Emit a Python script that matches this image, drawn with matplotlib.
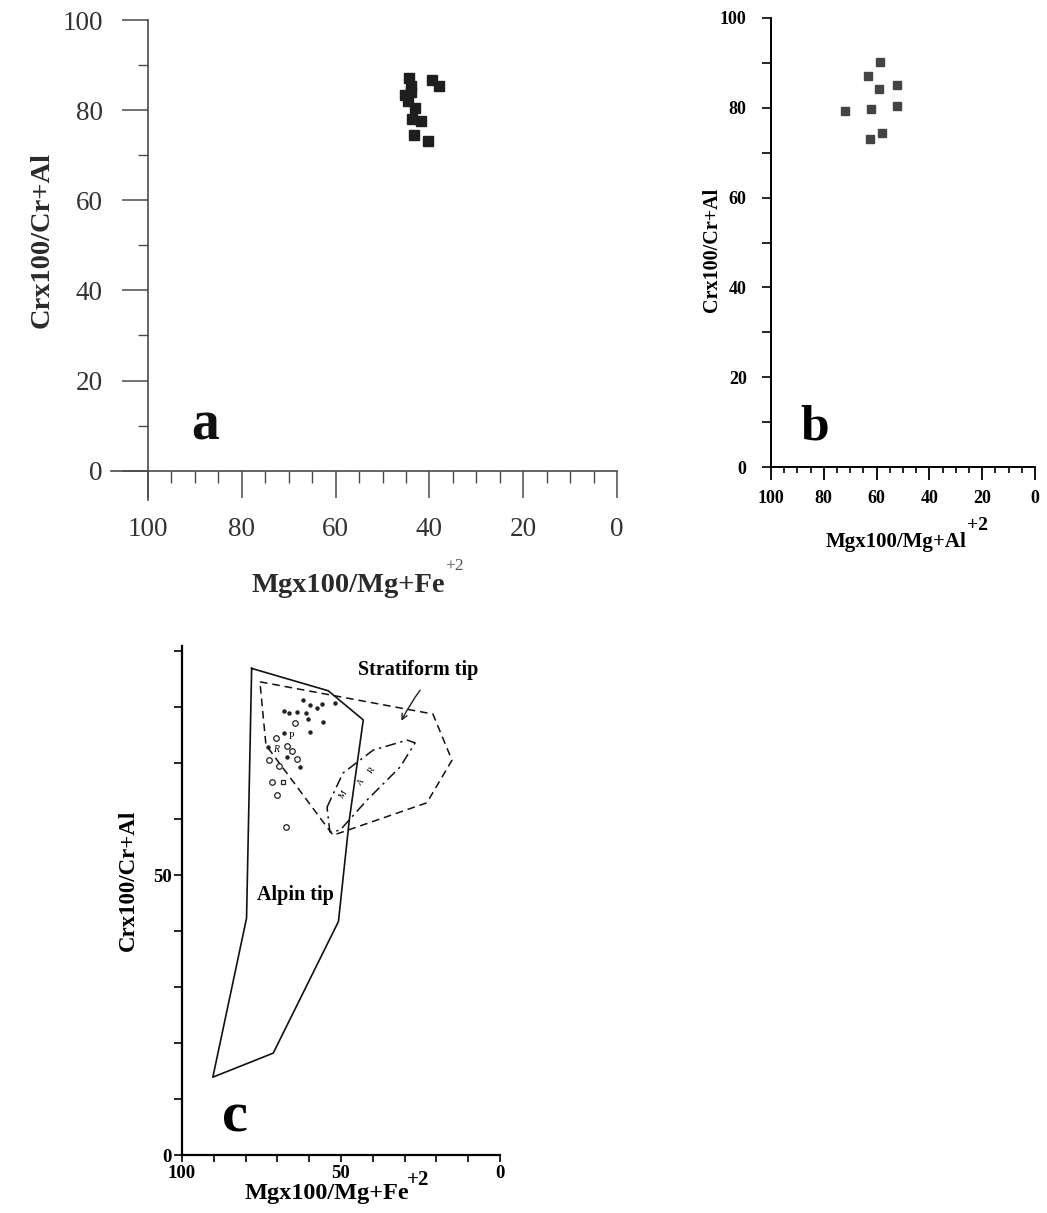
import matplotlib
matplotlib.use('Agg')
import matplotlib.pyplot as plt
from matplotlib.ticker import FixedLocator

plt.rcParams['font.family'] = ['Liberation Serif', 'DejaVu Serif']
plt.rcParams['mathtext.fontset'] = 'stix'

# ---------------- data ----------------
# panel a : Mg# (x) vs Cr# (y)
a_mg = [44.4, 43.9, 45.2, 44.6, 43.1, 43.7, 41.7, 43.3, 40.2, 39.4, 38.0, 44.0]
a_cr = [87.1, 85.3, 83.4, 82.1, 80.5, 78.0, 77.7, 74.4, 73.1, 86.6, 85.3, 84.0]

# panel b
b_mg = [58.7, 63.3, 59.1, 52.3, 72.0, 62.1, 52.3, 58.0, 62.5]
b_cr = [90.2, 87.1, 84.2, 85.1, 79.3, 79.7, 80.4, 74.4, 73.1]

# panel c : field outlines
alpin_x = [78.1, 54.0, 43.0, 47.4, 50.8, 71.3, 90.3, 79.7, 78.1]
alpin_y = [86.9, 82.9, 77.7, 59.8, 41.7, 18.2, 13.9, 42.3, 86.9]
strat_x = [75.5, 21.1, 15.1, 23.0, 52.5, 73.6, 75.5]
strat_y = [84.5, 78.75, 70.5, 62.9, 57.1, 73.2, 84.5]
mar_x = [54.4, 49.4, 39.9, 29.2, 26.7, 31.4, 41.8, 50.3, 53.5, 54.4]
mar_y = [62.1, 68.2, 72.3, 74.1, 73.6, 69.3, 63.4, 58.0, 57.7, 62.1]
# panel c : samples
c_circ_x = [64.5, 70.4, 65.4, 63.8, 72.6, 69.5, 71.7, 70.1, 67.3, 67.0]
c_circ_y = [77.1, 74.5, 72.1, 70.7, 70.5, 69.5, 66.6, 64.3, 58.6, 73.0]
c_sq_x = [68.2]
c_sq_y = [66.6]
c_dot_x = [62.0, 59.7, 57.5, 56.0, 51.9, 67.9, 66.4, 63.8, 61.0, 60.4, 55.7, 59.7, 67.9, 73.0, 67.0, 62.9]
c_dot_y = [81.25, 80.4, 79.8, 80.5, 80.7, 79.3, 78.9, 79.1, 78.9, 77.9, 77.3, 75.5, 75.4, 72.9, 71.1, 69.3]

xticks_ab = [100, 80, 60, 40, 20, 0]
yticks_ab = [0, 20, 40, 60, 80, 100]

# ---------------- figure ----------------
W, H = 1047, 1213
fig = plt.figure(figsize=(W / 100, H / 100), dpi=100)


def box(l, t, r, b):
    return [l / W, 1 - b / H, (r - l) / W, (b - t) / H]


def P(x, y):
    return (x / W, 1 - y / H)


# ---------------- panel a ----------------
ga = '#4a4a4a'
axa = fig.add_axes(box(110.5, 20, 617, 500))
axa.set_xlim(108, 0)
axa.set_ylim(-6.5, 100)
for s in ['top', 'right']:
    axa.spines[s].set_visible(False)
axa.spines['left'].set_position(('data', 100))
axa.spines['bottom'].set_position(('data', 0))
for s in ['left', 'bottom']:
    axa.spines[s].set_color(ga)
    axa.spines[s].set_linewidth(1.2)
axa.xaxis.set_major_locator(FixedLocator(xticks_ab))
axa.xaxis.set_minor_locator(FixedLocator([95, 90, 85, 75, 70, 65, 55, 50, 45, 35, 30, 25, 15, 10, 5]))
axa.yaxis.set_major_locator(FixedLocator(yticks_ab))
axa.yaxis.set_minor_locator(FixedLocator([10, 30, 50, 70, 90]))
axa.tick_params(axis='x', which='major', direction='out', length=19.5, width=1.1, color=ga,
                pad=14, labelsize=19.5, labelcolor='#333333')
axa.tick_params(axis='x', which='minor', direction='out', length=8.5, width=1.0, color=ga)
axa.tick_params(axis='y', which='major', direction='out', length=18.5, width=1.1, color=ga,
                pad=14, labelsize=19.5, labelcolor='#333333')
axa.tick_params(axis='y', which='minor', direction='out', length=7.5, width=1.0, color=ga)
axa.plot(a_mg, a_cr, 's', ms=6.8, color='#1e1e1e', mec='#1e1e1e', clip_on=False)
fig.text(*P(42, 240), 'Crx100/Cr+Al', rotation=90, ha='center', va='center',
         fontsize=20.5, fontweight='bold', color='#2a2a2a')
fig.text(*P(348, 585), 'Mgx100/Mg+Fe', ha='center', va='center',
         fontsize=20.5, fontweight='bold', color='#2a2a2a')
fig.text(*P(454, 566), '+2', ha='center', va='center', fontsize=12.5, color='#555555')
fig.text(*P(205, 425), 'a', ha='center', va='center', fontsize=40, fontweight='bold', color='#111111')

# ---------------- panel b ----------------
axb = fig.add_axes(box(771, 18, 1035, 467))
axb.set_xlim(100, 0)
axb.set_ylim(0, 100)
for s in ['top', 'right']:
    axb.spines[s].set_visible(False)
for s in ['left', 'bottom']:
    axb.spines[s].set_linewidth(1.4)
axb.xaxis.set_major_locator(FixedLocator(xticks_ab))
axb.xaxis.set_minor_locator(FixedLocator([95, 90, 85, 75, 70, 65, 55, 50, 45, 35, 30, 25, 15, 10, 5]))
axb.yaxis.set_major_locator(FixedLocator(yticks_ab))
axb.yaxis.set_minor_locator(FixedLocator([10, 30, 50, 70, 90]))
axb.tick_params(axis='x', which='major', direction='out', length=9.5, width=1.3, pad=7,
                labelsize=13)
axb.tick_params(axis='x', which='minor', direction='out', length=4, width=1.2)
axb.tick_params(axis='y', which='both', direction='out', length=6.5, width=1.2, pad=11,
                labelsize=13)
for lab in axb.get_xticklabels() + axb.get_yticklabels():
    lab.set_fontweight('bold')
axb.plot(b_mg, b_cr, 's', ms=5.8, color='#444444', mec='#444444', clip_on=False)
fig.text(*P(712, 250), 'Crx100/Cr+Al', rotation=90, ha='center', va='center',
         fontsize=14.5, fontweight='bold')
fig.text(*P(896, 542), 'Mgx100/Mg+Al', ha='center', va='center',
         fontsize=15, fontweight='bold')
fig.text(*P(977, 525), '+2', ha='center', va='center', fontsize=14, fontweight='bold')
fig.text(*P(815, 427), 'b', ha='center', va='center', fontsize=37, fontweight='bold')

# ---------------- panel c ----------------
axc = fig.add_axes(box(182, 646, 500, 1155))
axc.set_xlim(100, 0)
axc.set_ylim(0, 90.9)
for s in ['top', 'right']:
    axc.spines[s].set_visible(False)
for s in ['left', 'bottom']:
    axc.spines[s].set_linewidth(1.6)
axc.xaxis.set_major_locator(FixedLocator([100, 50, 0]))
axc.xaxis.set_minor_locator(FixedLocator([90, 80, 70, 60, 40, 30, 20, 10]))
axc.yaxis.set_major_locator(FixedLocator([0, 50]))
axc.yaxis.set_minor_locator(FixedLocator([10, 20, 30, 40, 60, 70, 80, 90]))
axc.tick_params(axis='x', which='both', direction='out', length=5, width=1.2, pad=2.5,
                labelsize=13.5)
axc.tick_params(axis='y', which='both', direction='out', length=5.8, width=1.2, pad=1.5,
                labelsize=13.5)
for lab in axc.get_xticklabels() + axc.get_yticklabels():
    lab.set_fontweight('bold')

axc.plot(alpin_x, alpin_y, '-', color='#111111', lw=1.2)
axc.plot(strat_x, strat_y, color='#111111', lw=1.1, dashes=(5, 3.2))
axc.plot(mar_x, mar_y, color='#111111', lw=1.1, dashes=(7, 3, 1.5, 3))
axc.plot(c_circ_x, c_circ_y, 'o', ms=4, mfc='white', mec='#222222', mew=0.9)
axc.plot(c_sq_x, c_sq_y, 's', ms=3.2, mfc='white', mec='#222222', mew=0.9)
axc.plot(c_dot_x, c_dot_y, 'o', ms=2.2, color='#222222')
axc.text(65.5, 74.7, 'P', fontsize=7, ha='center', va='center')
axc.text(70.4, 72.5, 'R', fontsize=7, ha='center', va='center', style='italic')
for t, x, y in [('M', 49.4, 64.3), ('A', 43.7, 66.6), ('R', 40.3, 68.75)]:
    axc.text(x, y, t, fontsize=6.5, ha='center', va='center', rotation=55)
axc.annotate('', xy=(31.4, 77.1), xytext=(24.6, 83.4),
             arrowprops=dict(arrowstyle='->', color='#222222', lw=1.0,
                             connectionstyle='arc3,rad=0.05'))
fig.text(*P(418, 670), 'Stratiform tip', ha='center', va='center', fontsize=14.5,
         fontweight='bold')
fig.text(*P(295, 895), 'Alpin tip', ha='center', va='center', fontsize=14.5,
         fontweight='bold')
fig.text(*P(128, 880), 'Crx100/Cr+Al', rotation=90, ha='center', va='center',
         fontsize=16.5, fontweight='bold')
fig.text(*P(327, 1193), 'Mgx100/Mg+Fe', ha='center', va='center',
         fontsize=17.5, fontweight='bold')
fig.text(*P(418, 1180), '+2', ha='center', va='center', fontsize=15, fontweight='bold')
fig.text(*P(235, 1118), 'c', ha='center', va='center', fontsize=42, fontweight='bold')

fig.savefig('out.png', dpi=100, facecolor='white')
